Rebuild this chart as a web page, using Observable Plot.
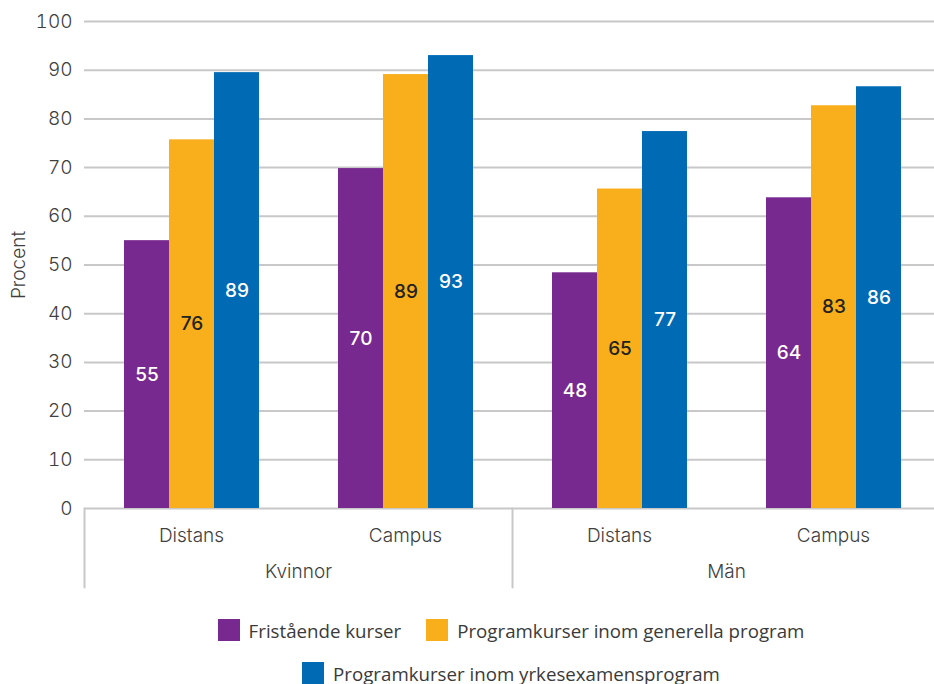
<!DOCTYPE html>
<html>
<head>
<meta charset="utf-8">
<script src="https://cdn.jsdelivr.net/npm/d3@7"></script>
<script src="https://cdn.jsdelivr.net/npm/@observablehq/plot@0.6"></script>
<style>
  html, body { margin: 0; padding: 0; background: #fff; overflow: hidden; }
  #chart svg { display: block; overflow: visible; }
  #legend {
    margin-left: 196px; width: 630px; padding-top: 19px;
    display: flex; flex-wrap: wrap; justify-content: center;
    column-gap: 25px; row-gap: 21px;
    font-family: "Open Sans", sans-serif; font-size: 18.7px; color: #3a3a3a;
  }
  .item { display: flex; align-items: center; height: 22px; white-space: nowrap; }
  .sw { width: 22px; height: 22px; margin-right: 9px; }
</style>
</head>
<body>
<div id="chart"></div>
<div id="legend"></div>
<script>
// ---- data ----
const genders = ["Kvinnor", "Män"];
const modes = ["Distans", "Campus"];
const series = ["Fristående kurser", "Programkurser inom generella program", "Programkurser inom yrkesexamensprogram"];
const colors = ["#77298F", "#F9AE1B", "#006AB5"];
// order: Kvinnor Distans, Kvinnor Campus, Män Distans, Män Campus
const fristaende = [55.0, 69.8, 48.4, 63.8];
const fristaendeLabels = ["55", "70", "48", "64"];
const generella = [75.7, 89.1, 65.6, 82.7];
const generellaLabels = ["76", "89", "65", "83"];
const yrkes = [89.5, 93.0, 77.4, 86.6];
const yrkesLabels = ["89", "93", "77", "86"];
const yTicks = [0, 10, 20, 30, 40, 50, 60, 70, 80, 90, 100];

// ---- build table ----
const groups = [];
genders.forEach(g => modes.forEach(m => groups.push({gender: g, mode: m, key: g + " · " + m})));
const values = [fristaende, generella, yrkes];
const labels = [fristaendeLabels, generellaLabels, yrkesLabels];
const rows = [];
groups.forEach((grp, i) => series.forEach((s, j) => rows.push({
  key: grp.key, series: s, si: j, value: values[j][i], label: labels[j][i]
})));
const genderFirst = genders.map(g => groups.find(d => d.gender === g));

const axisFont = "Inter, sans-serif";

const chart = Plot.plot({
  width: 934, height: 600,
  marginLeft: 82, marginRight: -7, marginTop: 21, marginBottom: 92,
  style: {fontFamily: axisFont, color: "#404040", background: "#fff"},
  fx: {domain: groups.map(d => d.key), padding: 0, axis: null},
  x: {domain: series, paddingInner: 0, paddingOuter: 0.865, axis: null},
  y: {domain: [0, 100]},
  color: {domain: series, range: colors},
  marks: [
    Plot.gridY(yTicks, {stroke: "#c8c8c8", strokeOpacity: 1, strokeWidth: 2}),
    Plot.axisY(yTicks, {tickSize: 0, tickPadding: 12, fontSize: 19, fontWeight: 300,
      label: "Procent", labelAnchor: "center", labelOffset: 73, labelArrow: "none", facetAnchor: "left"}),
    Plot.barY(rows, {fx: "key", x: "series", y: "value", fill: "series"}),
    Plot.text(rows.filter(d => d.si !== 1), {fx: "key", x: "series", y: d => d.value / 2, text: "label",
      fill: "white", fontSize: 19, fontWeight: 500}),
    Plot.text(rows.filter(d => d.si === 1), {fx: "key", x: "series", y: d => d.value / 2, text: "label",
      fill: "#222", fontSize: 19, fontWeight: 500}),
    Plot.text(groups, {fx: "key", frameAnchor: "bottom", dy: 33, text: "mode", fontSize: 19, fontWeight: 300, fill: "#404040"}),
    Plot.text(genderFirst, {fx: "key", frameAnchor: "bottom-right", dy: 69, text: "gender", textAnchor: "middle",
      fontSize: 19, fontWeight: 300, fill: "#404040"}),
    Plot.vector(genderFirst, {fx: "key", frameAnchor: "bottom-left", length: 79, rotate: 180, anchor: "start",
      stroke: "#c8c8c8", strokeWidth: 2,
      shape: {draw(context, l) { context.moveTo(0, 0); context.lineTo(0, -l); }}})
  ]
});
document.getElementById("chart").appendChild(chart);

const legend = document.getElementById("legend");
series.forEach((s, i) => {
  const it = document.createElement("div");
  it.className = "item";
  it.innerHTML = `<span class="sw" style="background:${colors[i]}"></span><span>${s}</span>`;
  legend.appendChild(it);
});
</script>
</body>
</html>
